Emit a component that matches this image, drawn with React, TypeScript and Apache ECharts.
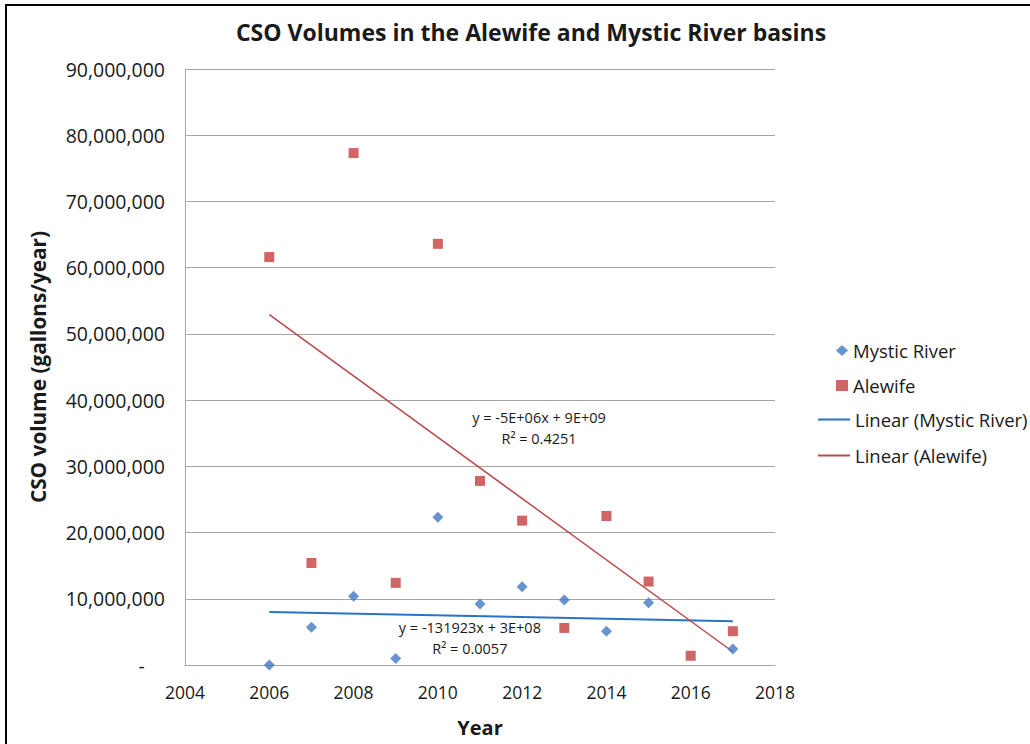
import React, { useEffect, useRef } from "react";
import * as echarts from "echarts";

const chartTitle = "CSO Volumes in the Alewife and Mystic River basins";
const yAxisTitle = "CSO volume (gallons/year)";
const xAxisTitle = "Year";

const mysticYears = [2006, 2007, 2008, 2009, 2010, 2011, 2012, 2013, 2014, 2015, 2017];
const mysticValues = [0, 5700000, 10400000, 1000000, 22300000, 9200000, 11800000, 9800000, 5100000, 9400000, 2400000];

const alewifeYears = [2006, 2007, 2008, 2009, 2010, 2011, 2012, 2013, 2014, 2015, 2016, 2017];
const alewifeValues = [61600000, 15400000, 77300000, 12400000, 63600000, 27800000, 21800000, 5600000, 22500000, 12600000, 1400000, 5100000];

const trendYears = [2006, 2017];
const mysticTrend = [8000000, 6600000];
const alewifeTrend = [52900000, 2000000];

const alewifeEquation = ["y = -5E+06x + 9E+09", "R² = 0.4251"];
const alewifeEquationAt = [2012.4, 35800000];
const mysticEquation = ["y = -131923x + 3E+08", "R² = 0.0057"];
const mysticEquationAt = [2010.76, 4050000];

const xMin = 2004;
const xMax = 2018;
const xStep = 2;
const yMin = 0;
const yMax = 90000000;
const yStep = 10000000;

const FONT = "'Open Sans', 'Noto Sans', sans-serif";
const TEXT = "#1a1a1a";

export default function App() {
  const ref = useRef<HTMLDivElement>(null);

  useEffect(() => {
    if (!ref.current) return;
    const chart = echarts.init(ref.current, undefined, { renderer: "svg" });
    const zip = (xs: number[], ys: number[]) => xs.map((x, i) => [x, ys[i]]);
    const eqLabel = (lines: string[], at: number[]) => ({
      symbol: "circle",
      symbolSize: 1,
      itemStyle: { color: "rgba(0,0,0,0)" },
      label: {
        show: true,
        position: "inside",
        formatter: lines.join("\n"),
        fontFamily: FONT,
        fontSize: 14.5,
        lineHeight: 21,
        color: TEXT,
        align: "center",
      },
      data: [{ coord: at }],
    });

    chart.setOption({
      animation: false,
      backgroundColor: "#ffffff",
      textStyle: { fontFamily: FONT },
      title: {
        text: chartTitle,
        left: 526,
        top: 15,
        textAlign: "center",
        textStyle: { fontFamily: FONT, fontSize: 23, fontWeight: "bold", color: TEXT },
      },
      grid: { left: 185, right: 255, top: 69, bottom: 79, containLabel: false },
      legend: [
        {
          orient: "vertical",
          left: 836,
          top: 341,
          padding: 0,
          itemWidth: 12,
          itemHeight: 11,
          itemGap: 16,
          textStyle: { fontFamily: FONT, fontSize: 18.5, color: TEXT },
          data: [
            { name: "Mystic River", icon: "diamond" },
            { name: "Alewife", icon: "rect" },
          ],
        },
        {
          orient: "vertical",
          left: 818,
          top: 410,
          padding: 0,
          itemWidth: 32,
          itemHeight: 12,
          itemGap: 17,
          textStyle: { fontFamily: FONT, fontSize: 18.5, color: TEXT },
          data: [
            { name: "Linear (Mystic River)", icon: "path://M0,5L32,5L32,7L0,7Z" },
            { name: "Linear (Alewife)", icon: "path://M0,5L32,5L32,7L0,7Z" },
          ],
        },
      ],
      xAxis: {
        type: "value",
        min: xMin,
        max: xMax,
        interval: xStep,
        name: xAxisTitle,
        nameLocation: "middle",
        nameGap: 52,
        nameTextStyle: { fontFamily: FONT, fontSize: 20, fontWeight: "bold", color: TEXT },
        axisLine: { show: true, lineStyle: { color: "#a6a6a6", width: 1 } },
        axisTick: { show: false },
        axisLabel: { fontFamily: FONT, fontSize: 17.5, color: TEXT, margin: 18, formatter: (v: number) => String(v) },
        splitLine: { show: false },
      },
      yAxis: {
        type: "value",
        min: yMin,
        max: yMax,
        interval: yStep,
        name: yAxisTitle,
        nameLocation: "middle",
        nameGap: 137,
        nameTextStyle: { fontFamily: FONT, fontSize: 20.8, fontWeight: "bold", color: TEXT },
        axisLine: { show: true, lineStyle: { color: "#a6a6a6", width: 1 } },
        axisTick: { show: false },
        axisLabel: {
          fontFamily: FONT,
          fontSize: 19.5,
          color: TEXT,
          margin: 20,
          formatter: (v: number) => (v === 0 ? "-    " : v.toLocaleString("en-US")),
        },
        splitLine: { show: true, lineStyle: { color: "#a6a6a6", width: 1 } },
      },
      series: [
        {
          name: "Mystic River",
          type: "scatter",
          symbol: "diamond",
          symbolSize: [11, 11],
          itemStyle: { color: "#4179c2" },
          data: zip(mysticYears, mysticValues),
          z: 3,
        },
        {
          name: "Alewife",
          type: "scatter",
          symbol: "rect",
          symbolSize: 10,
          itemStyle: { color: "#c43f40" },
          data: zip(alewifeYears, alewifeValues),
          z: 3,
        },
        {
          name: "Linear (Mystic River)",
          type: "line",
          showSymbol: false,
          symbol: "none",
          lineStyle: { color: "#2873c4", width: 2 },
          itemStyle: { color: "#2873c4" },
          data: zip(trendYears, mysticTrend),
          markPoint: eqLabel(mysticEquation, mysticEquationAt),
          z: 2,
        },
        {
          name: "Linear (Alewife)",
          type: "line",
          showSymbol: false,
          symbol: "none",
          lineStyle: { color: "#b94a4c", width: 1.5 },
          itemStyle: { color: "#b94a4c" },
          data: zip(trendYears, alewifeTrend),
          markPoint: eqLabel(alewifeEquation, alewifeEquationAt),
          z: 2,
        },
      ],
    });
    return () => chart.dispose();
  }, []);

  return (
    <div style={{ position: "fixed", left: 0, top: 0, width: 1030, height: 744, background: "#fff" }}>
      <div ref={ref} style={{ position: "absolute", left: 0, top: 0, width: 1030, height: 744 }} />
      <div style={{ position: "absolute", left: 5, top: 4, width: 1025, height: 2, background: "#000" }} />
      <div style={{ position: "absolute", left: 5, top: 4, width: 2, height: 740, background: "#000" }} />
    </div>
  );
}
